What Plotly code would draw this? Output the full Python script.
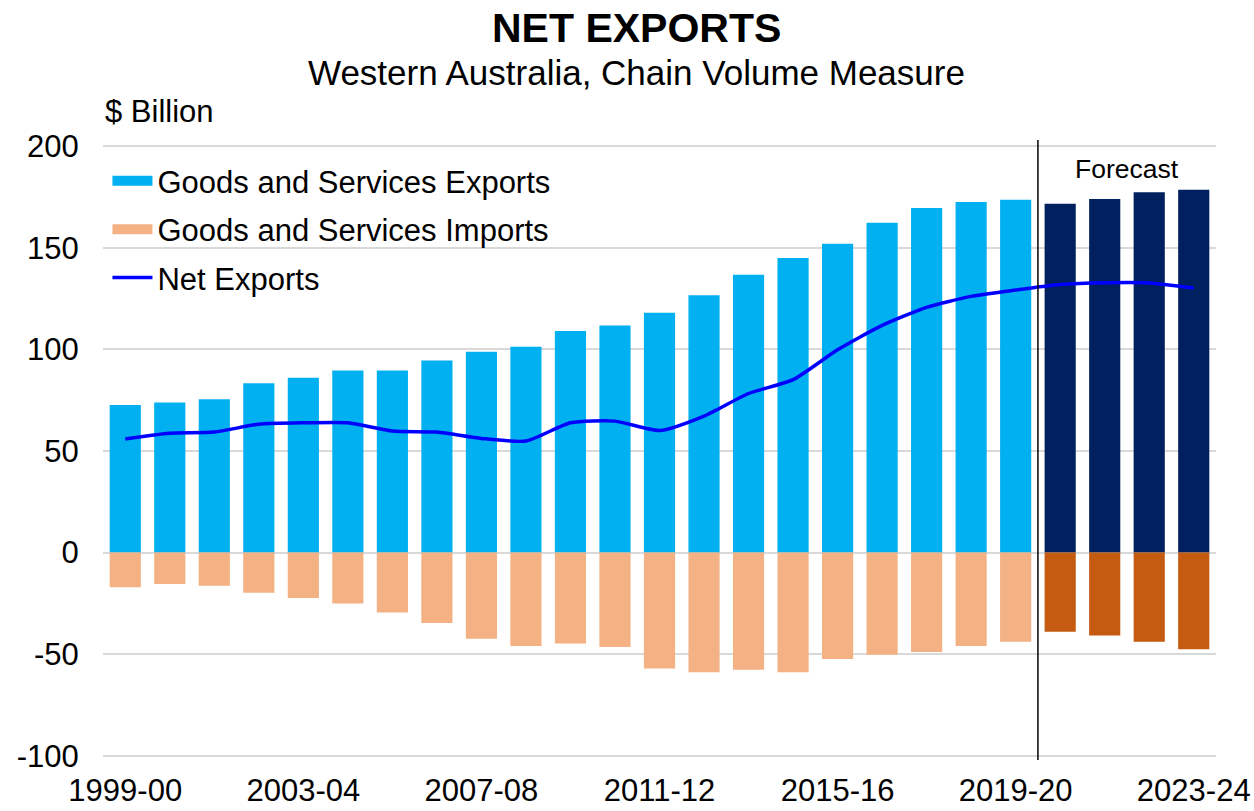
import plotly.graph_objects as go

# Financial years
years = ["1999-00", "2000-01", "2001-02", "2002-03", "2003-04", "2004-05",
         "2005-06", "2006-07", "2007-08", "2008-09", "2009-10", "2010-11",
         "2011-12", "2012-13", "2013-14", "2014-15", "2015-16", "2016-17",
         "2017-18", "2018-19", "2019-20", "2020-21", "2021-22", "2022-23",
         "2023-24"]

# $ billion, chain volume measure
exports = [72.7, 73.9, 75.5, 83.3, 86.1, 89.6, 89.6, 94.6, 98.9, 101.3,
           109.0, 111.8, 118.0, 126.6, 136.8, 145.0, 152.0, 162.3, 169.6,
           172.5, 173.7, 171.7, 174.0, 177.3, 178.6]
imports = [-17.1, -15.5, -16.3, -19.8, -22.3, -25.0, -29.5, -34.7, -42.4,
           -46.0, -44.8, -46.5, -57.1, -58.9, -57.6, -58.9, -52.4, -50.3,
           -48.9, -46.0, -43.9, -39.0, -40.8, -43.9, -47.6]
net_exports = [55.9, 58.7, 59.3, 63.2, 63.9, 63.9, 59.8, 59.3, 56.2, 54.9,
               63.9, 64.7, 60.1, 67.2, 78.3, 85.1, 99.8, 111.8, 120.7, 126.1,
               129.2, 131.9, 132.8, 132.7, 130.2]

forecast_start = "2020-21"
x_ticks = ["1999-00", "2003-04", "2007-08", "2011-12", "2015-16", "2019-20", "2023-24"]
y_ticks = [-100, -50, 0, 50, 100, 150, 200]
y_tick_text = ["-100", "-50", "0", "50", "100", "150", "200"]

FONT = "Liberation Sans, Arial, sans-serif"
EXP_HIST, EXP_FC = "#00B0F0", "#002060"
IMP_HIST, IMP_FC = "#F4B183", "#C55A11"

fc_idx = years.index(forecast_start)
is_fc = [i >= fc_idx for i in range(len(years))]

fig = go.Figure()
fig.add_trace(go.Bar(
    x=years, y=exports, name="Goods and Services Exports",
    marker=dict(color=[EXP_FC if f else EXP_HIST for f in is_fc], line=dict(width=0)),
    legendgroup="exp", showlegend=False,
))
fig.add_trace(go.Bar(
    x=years, y=imports, name="Goods and Services Imports",
    marker=dict(color=[IMP_FC if f else IMP_HIST for f in is_fc], line=dict(width=0)),
    legendgroup="imp", showlegend=False,
))

# Wide rectangular legend keys for the two bar series
for name, color, group in [("Goods and Services Exports", EXP_HIST, "exp"),
                           ("Goods and Services Imports", IMP_HIST, "imp")]:
    fig.add_trace(go.Scatter(
        x=[None], y=[None], name=name, mode="lines",
        line=dict(color=color, width=15), legendgroup=group,
        hoverinfo="skip",
    ))

fig.add_trace(go.Scatter(
    x=years, y=net_exports, name="Net Exports", mode="lines",
    line=dict(color="#0000FF", width=3.5, shape="spline", smoothing=0.6),
    legendgroup="net",
))

# Divider between actuals and forecast years
fig.add_shape(type="line", xref="x", yref="paper",
              x0=fc_idx - 0.5, x1=fc_idx - 0.5, y0=-0.005, y1=1.008,
              line=dict(color="black", width=1.5), layer="above")

fig.add_annotation(x=(fc_idx + len(years) - 1) / 2, y=189, xref="x", yref="y",
                   text="Forecast", showarrow=False,
                   font=dict(family=FONT, size=26.5, color="black"))
fig.add_annotation(x=0.479, y=1.191, xref="paper", yref="paper",
                   xanchor="center", yanchor="middle",
                   text="<b>NET EXPORTS</b>", showarrow=False,
                   font=dict(family=FONT, size=41, color="black"))
fig.add_annotation(x=0.479, y=1.118, xref="paper", yref="paper",
                   xanchor="center", yanchor="middle",
                   text="Western Australia, Chain Volume Measure", showarrow=False,
                   font=dict(family=FONT, size=35, color="black"))
fig.add_annotation(x=0.0, y=1.0, xref="paper", yref="paper", xanchor="left",
                   yanchor="bottom", yshift=14,
                   text="$ Billion", showarrow=False,
                   font=dict(family=FONT, size=31, color="black"))

fig.update_layout(
    width=1254, height=811,
    margin=dict(l=103, r=38, t=145, b=54, autoexpand=False),
    paper_bgcolor="white", plot_bgcolor="white",
    barmode="relative", bargap=0.30,
    font=dict(family=FONT, size=31, color="black"),
    showlegend=True,
    legend=dict(x=0.004, y=0.985, xanchor="left", yanchor="top",
                bgcolor="rgba(0,0,0,0)", traceorder="grouped",
                tracegroupgap=5, itemwidth=40,
                font=dict(family=FONT, size=31, color="black")),
    xaxis=dict(type="category", tickmode="array", tickvals=x_ticks, ticktext=x_ticks,
               showgrid=False, showline=False, zeroline=False, automargin=False,
               ticks="outside", ticklen=6, tickcolor="rgba(0,0,0,0)",
               tickfont=dict(family=FONT, size=31)),
    yaxis=dict(range=[-100.6, 200.6], tickvals=y_ticks, ticktext=y_tick_text,
               showgrid=True, gridcolor="#D9D9D9", gridwidth=1.5, zeroline=True,
               zerolinecolor="#D9D9D9", zerolinewidth=1.5, showline=False,
               automargin=False,
               ticks="outside", ticklen=17, tickcolor="rgba(0,0,0,0)",
               tickfont=dict(family=FONT, size=31)),
)

fig.write_html("out.html")
